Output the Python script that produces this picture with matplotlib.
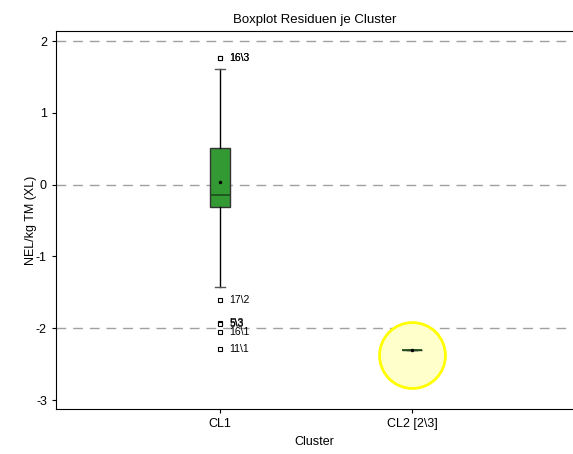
import matplotlib.pyplot as plt

plt.rcParams['font.family'] = ['Liberation Sans', 'DejaVu Sans']
plt.rcParams['axes.unicode_minus'] = False

clusters = ['CL1', 'CL2 [2\\3]']
positions = [1, 2]

# box statistics
q1 = [-0.315, -2.30]
med = [-0.15, -2.30]
q3 = [0.51, -2.30]
whislo = [-1.43, -2.30]
whishi = [1.61, -2.30]
means = [0.03, -2.30]

# outliers of CL1 with their labels
out_vals = [1.76, 1.77, -1.60, -1.93, -1.94, -2.05, -2.29]
out_labels = ['16\\3', '16\\3', '17\\2', '5\\3', '5\\3', '16\\1', '11\\1']

stats = []
for i in range(len(clusters)):
    stats.append(dict(label=clusters[i], q1=q1[i], med=med[i], q3=q3[i],
                      whislo=whislo[i], whishi=whishi[i], mean=means[i],
                      fliers=out_vals if i == 0 else []))

fig = plt.figure(figsize=(5.73, 4.54), dpi=100)
ax = fig.add_axes([56/573, 1 - 409/454, 1 - 56/573, 378/454])

for y in [2, 0, -2]:
    ax.axhline(y, color='#a0a0a0', lw=1, dashes=(7, 5), zorder=0)

ax.bxp(stats, positions=positions, widths=0.1, showmeans=True, patch_artist=True,
       capwidths=0.05,
       boxprops=dict(facecolor='#339933', edgecolor='#333333', lw=1),
       medianprops=dict(color='#1a4d1a', lw=1.2),
       whiskerprops=dict(color='black', lw=1),
       capprops=dict(color='#555555', lw=1),
       meanprops=dict(marker='.', markerfacecolor='black', markeredgecolor='black', markersize=3),
       flierprops=dict(marker='s', markersize=3, markerfacecolor='white',
                       markeredgecolor='black', markeredgewidth=0.8))

for v, lab in zip(out_vals, out_labels):
    ax.annotate(lab, (positions[0], v), xytext=(7, 0), textcoords='offset points',
                va='center', fontsize=7.5)

# highlight of the single-value cluster (drawn a little below the point, as in the original)
ax.scatter([positions[1]], [med[1] - 0.07], s=2250, facecolor='#ffffcc', edgecolor='#ffff00',
           linewidths=2, zorder=1)

ax.set_xlim(0.146, 2.839)
ax.set_ylim(-3.125, 2.14)
ax.set_yticks([-3, -2, -1, 0, 1, 2])
ax.tick_params(axis='both', labelsize=9, length=3)
ax.spines['right'].set_visible(False)
ax.set_title('Boxplot Residuen je Cluster', fontsize=9.5)
ax.set_xlabel('Cluster', fontsize=9)
ax.set_ylabel('NEL/kg TM (XL)', fontsize=9, labelpad=-1)

fig.savefig('out.png', dpi=100)
